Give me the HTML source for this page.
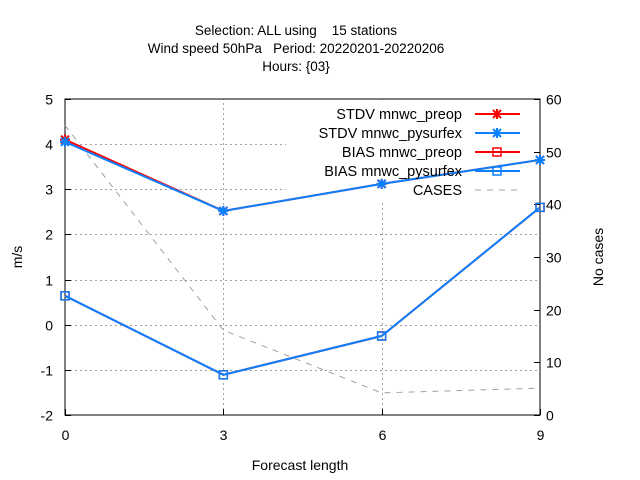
<!DOCTYPE html>
<html><head><meta charset="utf-8"><style>
body{margin:0;background:#fff}
svg{display:block;font-family:"Liberation Sans",sans-serif;font-size:14px}
</style></head><body>
<svg id="chart" width="640" height="480" viewBox="0 0 640 480">
<g text-anchor="middle" fill="#000" style="font-size:13.5px">
<text x="296" y="35" xml:space="preserve">Selection: ALL using    15 stations</text>
<text x="296" y="53" xml:space="preserve">Wind speed 50hPa   Period: 20220201-20220206</text>
<text x="296" y="71">Hours: {03}</text>
</g>
<g id="grid"></g>
<rect x="286" y="100" width="253" height="103" fill="#fff"/>
<rect x="65" y="99" width="475" height="316" fill="none" stroke="#000" stroke-width="1"/>
<g id="axes"></g>
<text x="300" y="470" text-anchor="middle">Forecast length</text>
<text transform="translate(22,257) rotate(-90)" text-anchor="middle">m/s</text>
<text transform="translate(603,257) rotate(-90)" text-anchor="middle">No cases</text>
<g id="series"></g>
<g id="legend" style="font-size:14.5px"></g>
</svg>
<script>
const categories=[0,3,6,9];
const stdvPreop=[4.1,2.52,3.12,3.65];
const stdvPysurfex=[4.05,2.52,3.12,3.65];
const biasPreop=[0.64,-1.11,-0.25,2.6];
const biasPysurfex=[0.64,-1.11,-0.25,2.6];
const cases=[55,16.1,4.2,5.1];
const yTicks=[-2,-1,0,1,2,3,4,5];
const y2Ticks=[0,10,20,30,40,50,60];
const xTicks=[0,3,6,9];

const NS="http://www.w3.org/2000/svg";
const X0=65,X1=540,Y0=415,Y1=99;
const xs=v=>X0+(v-0)/(9-0)*(X1-X0);
const ys=v=>Y0-(v+2)/7*(Y0-Y1);
const y2s=v=>Y0-v/60*(Y0-Y1);
function mk(tag,attrs,parent){const e=document.createElementNS(NS,tag);for(const k in attrs)e.setAttribute(k,attrs[k]);parent.appendChild(e);return e;}
const grid=document.getElementById('grid'),axes=document.getElementById('axes'),series=document.getElementById('series'),legend=document.getElementById('legend');
const gs={stroke:'#a0a0a0','stroke-width':1,'stroke-dasharray':'2,3'};
yTicks.forEach(t=>{const y=Math.round(ys(t))+0.5;
 if(t>-2&&t<5){const g=mk('line',Object.assign({x1:X0,x2:X1,y1:y,y2:y},gs),grid);
 
 }
 mk('line',{x1:X0,x2:X0+6,y1:y,y2:y,stroke:'#000'},axes);
 const tx=mk('text',{x:X0-12,y:y+5,'text-anchor':'end'},axes);tx.textContent=t;
 
 });
y2Ticks.forEach(t=>{const y=Math.round(y2s(t))+0.5;
 mk('line',{x1:X1-6,x2:X1,y1:y,y2:y,stroke:'#000'},axes);
 const tx=mk('text',{x:X1+6,y:y+5},axes);tx.textContent=t;
 
 });
xTicks.forEach(t=>{const x=Math.round(xs(t))+0.5;
 if(t>0&&t<9){const g=mk('line',Object.assign({x1:x,x2:x,y1:Y0,y2:Y1},gs),grid);
 
 }
 mk('line',{x1:x,x2:x,y1:Y0,y2:Y0-6,stroke:'#000'},axes);
 const tx=mk('text',{x:x,y:Y0+25,'text-anchor':'middle'},axes);tx.textContent=t;
 
 });
function star(x,y,c,p){mk('path',{d:`M${x-4},${y-4}L${x+4},${y+4}M${x-4},${y+4}L${x+4},${y-4}M${x-5},${y}L${x+5},${y}M${x},${y-5}L${x},${y+5}`,stroke:c,'stroke-width':2,fill:'none'},p);}
function box(x,y,c,p){mk('rect',{x:x-4,y:y-4,width:8,height:8,stroke:c,'stroke-width':1.5,fill:'none'},p);}
function draw(vals,scale,color,marker,name,dash){
 const g=mk('g',{},series);
 
 
 const pts=vals.map((v,i)=>xs(categories[i])+','+scale(v)).join(' ');
 const a={points:pts,fill:'none',stroke:color,'stroke-width':dash?1:2};if(dash)a['stroke-dasharray']='6,6';
 mk('polyline',a,g);
 vals.forEach((v,i)=>{if(marker)marker(xs(categories[i]),scale(v),color,g);});}
draw(cases,y2s,'#a0a0a0',null,'series-cases',true);
draw(stdvPreop,ys,'#ff0000',star,'series-stdv-preop');
draw(biasPreop,ys,'#ff0000',box,'series-bias-preop');
draw(stdvPysurfex,ys,'#0a80ff',star,'series-stdv-pysurfex');
draw(biasPysurfex,ys,'#0a80ff',box,'series-bias-pysurfex');
const leg=[['STDV mnwc_preop','#ff0000',star],['STDV mnwc_pysurfex','#0a80ff',star],['BIAS mnwc_preop','#ff0000',box],['BIAS mnwc_pysurfex','#0a80ff',box],['CASES','#a0a0a0',null]];
leg.forEach((l,i)=>{const y=114+i*19;const g=mk('g',{},legend);
 
 
 const t=mk('text',{x:462,y:y+5,'text-anchor':'end'},g);t.textContent=l[0];
 const a={x1:475,x2:520,y1:y,y2:y,stroke:l[1],'stroke-width':l[2]?2:1};if(!l[2])a['stroke-dasharray']='6,6';
 mk('line',a,g);if(l[2])l[2](497,y,l[1],g);});
</script>
</body></html>
